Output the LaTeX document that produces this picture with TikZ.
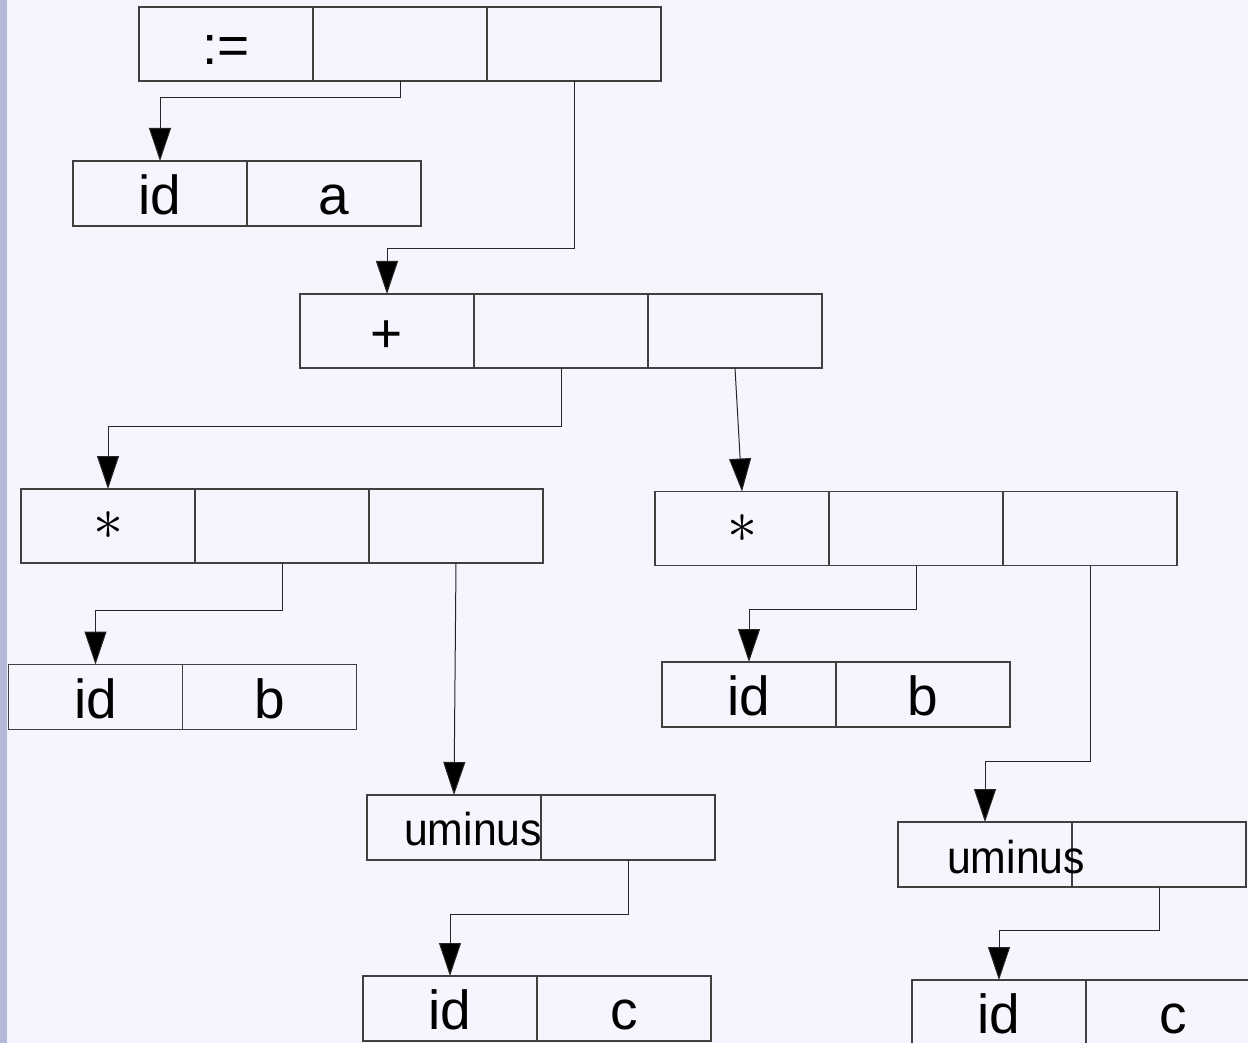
\RequirePackage{fix-cm}
\documentclass[tikz,border=0pt]{standalone}
\usepackage{fontspec}
\setmainfont{Liberation Sans}
\newfontfamily\umfam[FakeStretch=0.93]{Liberation Sans}
\usetikzlibrary{arrows.meta}
\definecolor{bgc}{HTML}{F4F5FD}
\definecolor{stripc}{HTML}{B4B9D9}
\newcommand{\bigf}{\fontsize{55}{60}\selectfont}
\newcommand{\umf}{\umfam\fontsize{46}{50}\selectfont}
\newcommand{\astf}{\fontsize{60}{66}\selectfont}
\tikzset{
  cell/.style={draw=black!75, line width=1.3pt, minimum width=174pt, minimum height=74pt,
    inner sep=0pt, outer sep=0pt, font=\bigf, text height=42pt, text depth=0pt},
  cellb/.style={cell, minimum height=65pt},
  astcell/.style={cell, font=\astf, text height={}, text depth={}},
  umtext/.style={anchor=base west, inner sep=0pt, font=\umf},
  arr/.style={-{Triangle[length=33pt,width=22pt,fill=black]}, line width=1pt, draw=black!85}
}
\begin{document}
\begin{tikzpicture}[x=1pt,y=-1pt]
\useasboundingbox (0,0) rectangle (1248,1043);
\clip (0,0) rectangle (1248,1043);
\fill[bgc] (0,0) rectangle (1248,1043);
\fill[stripc] (0,0) rectangle (7,1043);
% := box
\node[cell] (A1) at (226,44) {:=};
\node[cell] (A2) at (400,44) {};
\node[cell] (A3) at (574,44) {};
% id a
\node[cellb] (B1) at (160,193.5) {id};
\node[cellb] (B2) at (334,193.5) {a};
% + box
\node[cell] (P1) at (387,331) {+};
\node[cell] (P2) at (561,331) {};
\node[cell] (P3) at (735,331) {};
% left *
\node[astcell] (L1) at (108,526) {$\ast$};
\node[cell] (L2) at (282,526) {};
\node[cell] (L3) at (456,526) {};
% right *
\node[astcell] (R1) at (742,528.5) {$\ast$};
\node[cell] (R2) at (916,528.5) {};
\node[cell] (R3) at (1090,528.5) {};
% left id b
\node[cellb] (LB1) at (95.5,697) {id};
\node[cellb] (LB2) at (269.5,697) {b};
% right id b
\node[cellb] (RB1) at (749,694.5) {id};
\node[cellb] (RB2) at (923,694.5) {b};
% left uminus
\node[cellb] (LU1) at (454,827.5) {};
\node[cellb] (LU2) at (628,827.5) {};
\node[umtext] (LUt) at (404,845) {uminus};
% right uminus
\node[cellb] (RU1) at (985,854.5) {};
\node[cellb] (RU2) at (1159,854.5) {};
\node[umtext] (RUt) at (947,873) {uminus};
% left id c
\node[cellb] (LC1) at (450,1008.5) {id};
\node[cellb] (LC2) at (624,1008.5) {c};
% right id c
\node[cellb] (RC1) at (999,1012.5) {id};
\node[cellb] (RC2) at (1173,1012.5) {c};
% connectors
\draw[arr] (A2.south) -- ++(0,17) -| (B1.north);
\draw[arr] (A3.south) -- ++(0,168) -| (P1.north);
\draw[arr] (P2.south) -- ++(0,58) -| (L1.north);
\draw[arr] (P3.south) -- (R1.north);
\draw[arr] (L2.south) -- ++(0,47) -| (LB1.north);
\draw[arr] (L3.south) -- (LU1.north);
\draw[arr] (LU2.south) -- ++(0,54) -| (LC1.north);
\draw[arr] (R2.south) -- ++(0,44) -| (RB1.north);
\draw[arr] (R3.south) -- ++(0,196) -| (RU1.north);
\draw[arr] (RU2.south) -- ++(0,43) -| (RC1.north);
\end{tikzpicture}
\end{document}
